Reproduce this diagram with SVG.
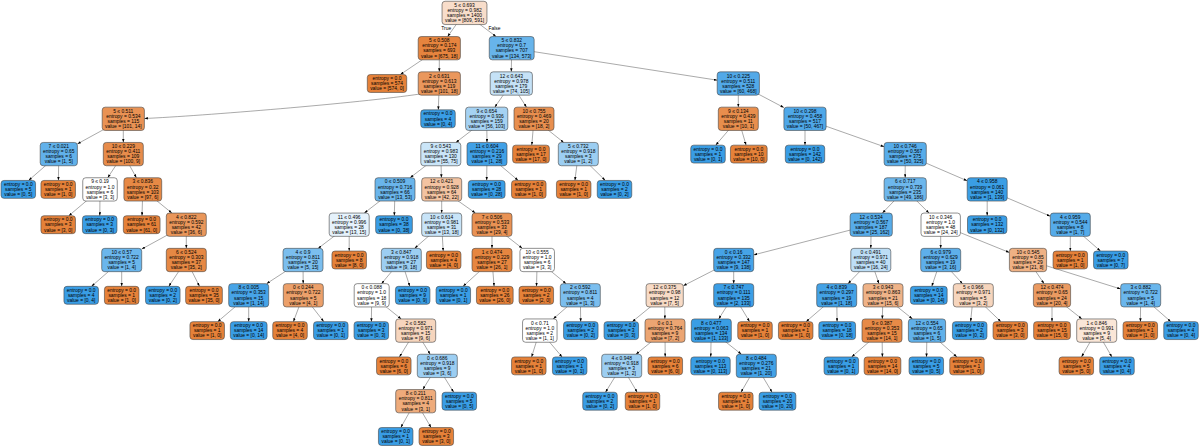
<svg xmlns="http://www.w3.org/2000/svg" width="1200" height="447" viewBox="0 0 1200 447">
<style>
text{font-family:"Liberation Sans",Arial,sans-serif;font-size:4.93px;text-anchor:middle;fill:#000}
.nd rect{stroke:#444;stroke-width:.6;rx:3px;ry:3px}
.o{fill:#e58139}.b{fill:#399de5}.w{fill:#fff}
#edges path{stroke:#555;stroke-width:.5;fill:none;marker-end:url(#ah)}
</style>
<defs><marker id="ah" viewBox="0 0 10 7" refX="10" refY="3.5" markerWidth="3.5" markerHeight="2.45" markerUnits="userSpaceOnUse" orient="auto"><path d="M0 0L10 3.5L0 7z" fill="#000"/></marker></defs>
<rect width="1200" height="447" fill="#fff"/>
<g id="edges">
<path d="M464.5 12.9L447.6 36.55"/><path d="M464.5 12.9L496.1 36.55"/>
<path d="M439.3 48.2L400.3 74.55"/><path d="M439.3 48.2L439.3 71.85"/><path d="M511.7 48.2L511.3 71.85"/><path d="M511.7 48.2L717.2 80.2"/>
<path d="M420 94C360 103 200 116 144.4 118.5"/><path d="M439.3 83.5L438.3 109.85"/><path d="M511.3 83.5L494.8 107.15"/><path d="M511.3 83.5L526.5 107.15"/><path d="M738.3 83.5L738.3 107.15"/><path d="M738.3 83.5L783.9 107.6"/>
<path d="M123.3 118.8L77.4 143.9"/><path d="M123.3 118.8L123.3 142.45"/><path d="M486.7 118.8L455.9 142.45"/><path d="M486.7 118.8L487 142.45"/><path d="M534 118.8L531.8 145.15"/><path d="M534 118.8L563.7 142.45"/><path d="M738.3 118.8L715.7 145.15"/><path d="M738.3 118.8L746.1 145.15"/><path d="M805 118.8L805 145.15"/><path d="M805 118.8L884.1 146.7"/>
<path d="M58.8 154.1L28.6 180.45"/><path d="M58.8 154.1L58.4 180.45"/><path d="M123.3 154.1L107.7 177.75"/><path d="M123.3 154.1L136.4 177.75"/><path d="M440.8 154.1L410.1 177.75"/><path d="M440.8 154.1L441.4 177.75"/><path d="M487 154.1L486.7 180.45"/><path d="M487 154.1L518.2 180.45"/><path d="M578.3 154.1L574.9 180.45"/><path d="M578.3 154.1L605.3 180.45"/><path d="M905.2 154.1L905.2 177.75"/><path d="M905.2 154.1L967.2 180.8"/>
<path d="M100 189.4L68.8 215.75"/><path d="M100 189.4L99.8 215.75"/><path d="M142.8 189.4L142 215.75"/><path d="M142.8 189.4L171.9 213.05"/><path d="M395 189.4L364.3 213.05"/><path d="M395 189.4L394.3 215.75"/><path d="M441.7 189.4L441.7 213.05"/><path d="M441.7 189.4L475.4 213.05"/><path d="M905.2 189.4L882.4 213.05"/><path d="M905.2 189.4L929 213.05"/><path d="M987.2 189.4L987.2 215.75"/><path d="M987.2 189.4L1050.3 216.2"/>
<path d="M186.3 224.7L141.7 249.1"/><path d="M186.3 224.7L186.3 248.35"/><path d="M349.2 224.7L318.2 248.35"/><path d="M349.2 224.7L349.2 251.05"/><path d="M441.7 224.7L414.6 248.35"/><path d="M441.7 224.7L443.2 251.05"/><path d="M492 224.7L492 248.35"/><path d="M492 224.7L522.3 248.35"/><path d="M871.2 224.7L753.7 254.9"/><path d="M871.2 224.7L870.8 248.35"/><path d="M940.7 224.7L940.7 248.35"/><path d="M940.7 224.7L1009.4 252.5"/><path d="M1070.3 224.7L1070.3 251.05"/><path d="M1070.3 224.7L1100.5 251.05"/>
<path d="M121.7 260L91.5 286.35"/><path d="M121.7 260L121.7 286.35"/><path d="M186.3 260L168.8 286.35"/><path d="M186.3 260L199.5 286.35"/><path d="M303 260L266.6 283.65"/><path d="M303 260L303.2 283.65"/><path d="M401.3 260L381.5 283.65"/><path d="M401.3 260L409.8 286.35"/><path d="M492 260L463.1 286.35"/><path d="M492 260L494.1 286.35"/><path d="M537.2 260L536.5 286.35"/><path d="M537.2 260L566.1 283.65"/><path d="M733.7 260L683.3 285.8"/><path d="M733.7 260L733.7 283.65"/><path d="M870.8 260L848 283.65"/><path d="M870.8 260L879 283.65"/><path d="M940.7 260L931.8 286.35"/><path d="M940.7 260L962.5 283.65"/><path d="M1028 260L1044.1 283.65"/><path d="M1028 260L1120.7 289"/>
<path d="M248.7 295.3L217.7 321.65"/><path d="M248.7 295.3L248.7 321.65"/><path d="M303.3 295.3L293.4 321.65"/><path d="M303.3 295.3L323.8 321.65"/><path d="M371.7 295.3L371.4 321.65"/><path d="M371.7 295.3L401.2 318.95"/><path d="M580.3 295.3L553.2 318.95"/><path d="M580.3 295.3L580.7 321.65"/><path d="M664.7 295.3L632.3 321.65"/><path d="M664.7 295.3L664.9 318.95"/><path d="M733.7 295.3L718.7 318.95"/><path d="M733.7 295.3L749.6 321.65"/><path d="M836.7 295.3L806.1 321.65"/><path d="M836.7 295.3L837.1 321.65"/><path d="M883 295.3L882.3 318.95"/><path d="M883 295.3L912.5 318.95"/><path d="M973.3 295.3L970.6 321.65"/><path d="M973.3 295.3L1000.9 321.65"/><path d="M1052 295.3L1052 321.65"/><path d="M1052 295.3L1081.9 318.95"/><path d="M1140.7 295.3L1140.4 321.65"/><path d="M1140.7 295.3L1170.8 321.65"/>
<path d="M415.7 330.6L399.4 356.95"/><path d="M415.7 330.6L430.2 354.25"/><path d="M539.8 330.6L531.6 356.95"/><path d="M539.8 330.6L562.1 356.95"/><path d="M665 330.6L636 354.25"/><path d="M665 330.6L665.2 356.95"/><path d="M711.3 330.6L710.7 356.95"/><path d="M711.3 330.6L741.4 354.25"/><path d="M882 330.6L851.6 356.95"/><path d="M882 330.6L882.4 356.95"/><path d="M927 330.6L926.5 356.95"/><path d="M927 330.6L956.9 356.95"/><path d="M1096.7 330.6L1081.5 356.95"/><path d="M1096.7 330.6L1111.9 356.95"/>
<path d="M437.3 365.9L422.8 389.55"/><path d="M437.3 365.9L453.7 392.25"/><path d="M621.7 365.9L605.5 392.25"/><path d="M621.7 365.9L637.2 392.25"/><path d="M756.3 365.9L741 392.25"/><path d="M756.3 365.9L772.1 392.25"/>
<path d="M415.7 401.2L400.8 427.55"/><path d="M415.7 401.2L431.1 427.55"/>
</g>
<text x="446.2" y="29.7">True</text><text x="494.5" y="29.7">False</text>
<g id="n0" class="nd"><rect x="442.05" y="1.25" width="44.9" height="23.3" fill="#f8ddca"/><text y="6.95"><tspan x="464.5">5 ≤ 0.693</tspan><tspan x="464.5" dy="5.1">entropy = 0.982</tspan><tspan x="464.5" dy="5.1">samples = 1400</tspan><tspan x="464.5" dy="5.1">value = [809, 591]</tspan></text></g>
<g id="n1" class="nd"><rect x="418.2" y="36.55" width="42.2" height="23.3" fill="#e6843e"/><text y="42.25"><tspan x="439.3">5 ≤ 0.508</tspan><tspan x="439.3" dy="5.1">entropy = 0.174</tspan><tspan x="439.3" dy="5.1">samples = 693</tspan><tspan x="439.3" dy="5.1">value = [675, 18]</tspan></text></g>
<g id="n2" class="nd"><rect x="489.25" y="36.55" width="44.9" height="23.3" fill="#67b4eb"/><text y="42.25"><tspan x="511.7">5 ≤ 0.832</tspan><tspan x="511.7" dy="5.1">entropy = 0.7</tspan><tspan x="511.7" dy="5.1">samples = 707</tspan><tspan x="511.7" dy="5.1">value = [134, 573]</tspan></text></g>
<g id="n3" class="nd"><rect class="o" x="367.3" y="74.55" width="39.4" height="17.9"/><text y="80.1"><tspan x="387">entropy = 0.0</tspan><tspan x="387" dy="5.1">samples = 574</tspan><tspan x="387" dy="5.1">value = [574, 0]</tspan></text></g>
<g id="n4" class="nd"><rect x="418.2" y="71.85" width="42.2" height="23.3" fill="#ea975c"/><text y="77.55"><tspan x="439.3">2 ≤ 0.631</tspan><tspan x="439.3" dy="5.1">entropy = 0.613</tspan><tspan x="439.3" dy="5.1">samples = 119</tspan><tspan x="439.3" dy="5.1">value = [101, 18]</tspan></text></g>
<g id="n5" class="nd"><rect x="490.2" y="71.85" width="42.2" height="23.3" fill="#c5e2f7"/><text y="77.55"><tspan x="511.3">12 ≤ 0.643</tspan><tspan x="511.3" dy="5.1">entropy = 0.978</tspan><tspan x="511.3" dy="5.1">samples = 179</tspan><tspan x="511.3" dy="5.1">value = [74, 105]</tspan></text></g>
<g id="n6" class="nd"><rect x="717.2" y="71.85" width="42.2" height="23.3" fill="#52a9e8"/><text y="77.55"><tspan x="738.3">10 ≤ 0.225</tspan><tspan x="738.3" dy="5.1">entropy = 0.511</tspan><tspan x="738.3" dy="5.1">samples = 528</tspan><tspan x="738.3" dy="5.1">value = [60, 468]</tspan></text></g>
<g id="n7" class="nd"><rect x="102.2" y="107.15" width="42.2" height="23.3" fill="#e99254"/><text y="112.85"><tspan x="123.3">5 ≤ 0.511</tspan><tspan x="123.3" dy="5.1">entropy = 0.534</tspan><tspan x="123.3" dy="5.1">samples = 115</tspan><tspan x="123.3" dy="5.1">value = [101, 14]</tspan></text></g>
<g id="n8" class="nd"><rect class="b" x="420.75" y="109.85" width="34.5" height="17.9"/><text y="115.4"><tspan x="438">entropy = 0.0</tspan><tspan x="438" dy="5.1">samples = 4</tspan><tspan x="438" dy="5.1">value = [0, 4]</tspan></text></g>
<g id="n9" class="nd"><rect x="465.6" y="107.15" width="42.2" height="23.3" fill="#a5d2f3"/><text y="112.85"><tspan x="486.7">9 ≤ 0.654</tspan><tspan x="486.7" dy="5.1">entropy = 0.936</tspan><tspan x="486.7" dy="5.1">samples = 159</tspan><tspan x="486.7" dy="5.1">value = [56, 103]</tspan></text></g>
<g id="n10" class="nd"><rect x="514" y="107.15" width="40" height="23.3" fill="#e88f4f"/><text y="112.85"><tspan x="534">10 ≤ 0.755</tspan><tspan x="534" dy="5.1">entropy = 0.469</tspan><tspan x="534" dy="5.1">samples = 20</tspan><tspan x="534" dy="5.1">value = [18, 2]</tspan></text></g>
<g id="n11" class="nd"><rect x="718.3" y="107.15" width="40" height="23.3" fill="#e88e4d"/><text y="112.85"><tspan x="738.3">9 ≤ 0.134</tspan><tspan x="738.3" dy="5.1">entropy = 0.439</tspan><tspan x="738.3" dy="5.1">samples = 11</tspan><tspan x="738.3" dy="5.1">value = [10, 1]</tspan></text></g>
<g id="n12" class="nd"><rect x="783.9" y="107.15" width="42.2" height="23.3" fill="#4ea7e8"/><text y="112.85"><tspan x="805">10 ≤ 0.298</tspan><tspan x="805" dy="5.1">entropy = 0.458</tspan><tspan x="805" dy="5.1">samples = 517</tspan><tspan x="805" dy="5.1">value = [50, 467]</tspan></text></g>
<g id="n13" class="nd"><rect x="40.2" y="142.45" width="37.2" height="23.3" fill="#61b1ea"/><text y="148.15"><tspan x="58.8">7 ≤ 0.021</tspan><tspan x="58.8" dy="5.1">entropy = 0.65</tspan><tspan x="58.8" dy="5.1">samples = 6</tspan><tspan x="58.8" dy="5.1">value = [1, 5]</tspan></text></g>
<g id="n14" class="nd"><rect x="103.3" y="142.45" width="40" height="23.3" fill="#e78c4b"/><text y="148.15"><tspan x="123.3">10 ≤ 0.229</tspan><tspan x="123.3" dy="5.1">entropy = 0.411</tspan><tspan x="123.3" dy="5.1">samples = 109</tspan><tspan x="123.3" dy="5.1">value = [100, 9]</tspan></text></g>
<g id="n15" class="nd"><rect x="420.8" y="142.45" width="40" height="23.3" fill="#cae5f8"/><text y="148.15"><tspan x="440.8">9 ≤ 0.543</tspan><tspan x="440.8" dy="5.1">entropy = 0.983</tspan><tspan x="440.8" dy="5.1">samples = 130</tspan><tspan x="440.8" dy="5.1">value = [55, 75]</tspan></text></g>
<g id="n16" class="nd"><rect x="467" y="142.45" width="40" height="23.3" fill="#40a0e6"/><text y="148.15"><tspan x="487">11 ≤ 0.604</tspan><tspan x="487" dy="5.1">entropy = 0.216</tspan><tspan x="487" dy="5.1">samples = 29</tspan><tspan x="487" dy="5.1">value = [1, 28]</tspan></text></g>
<g id="n17" class="nd"><rect class="o" x="512.65" y="145.15" width="36.7" height="17.9"/><text y="150.7"><tspan x="531">entropy = 0.0</tspan><tspan x="531" dy="5.1">samples = 17</tspan><tspan x="531" dy="5.1">value = [17, 0]</tspan></text></g>
<g id="n18" class="nd"><rect x="558.3" y="142.45" width="40" height="23.3" fill="#9ccef2"/><text y="148.15"><tspan x="578.3">5 ≤ 0.732</tspan><tspan x="578.3" dy="5.1">entropy = 0.918</tspan><tspan x="578.3" dy="5.1">samples = 3</tspan><tspan x="578.3" dy="5.1">value = [1, 2]</tspan></text></g>
<g id="n19" class="nd"><rect class="b" x="690.75" y="145.15" width="34.5" height="17.9"/><text y="150.7"><tspan x="708">entropy = 0.0</tspan><tspan x="708" dy="5.1">samples = 1</tspan><tspan x="708" dy="5.1">value = [0, 1]</tspan></text></g>
<g id="n20" class="nd"><rect class="o" x="730.45" y="145.15" width="36.7" height="17.9"/><text y="150.7"><tspan x="748.8">entropy = 0.0</tspan><tspan x="748.8" dy="5.1">samples = 10</tspan><tspan x="748.8" dy="5.1">value = [10, 0]</tspan></text></g>
<g id="n21" class="nd"><rect class="b" x="785.3" y="145.15" width="39.4" height="17.9"/><text y="150.7"><tspan x="805">entropy = 0.0</tspan><tspan x="805" dy="5.1">samples = 142</tspan><tspan x="805" dy="5.1">value = [0, 142]</tspan></text></g>
<g id="n22" class="nd"><rect x="884.1" y="142.45" width="42.2" height="23.3" fill="#57ace9"/><text y="148.15"><tspan x="905.2">10 ≤ 0.746</tspan><tspan x="905.2" dy="5.1">entropy = 0.567</tspan><tspan x="905.2" dy="5.1">samples = 375</tspan><tspan x="905.2" dy="5.1">value = [50, 325]</tspan></text></g>
<g id="n23" class="nd"><rect class="b" x="1.05" y="180.45" width="34.5" height="17.9"/><text y="186"><tspan x="18.3">entropy = 0.0</tspan><tspan x="18.3" dy="5.1">samples = 5</tspan><tspan x="18.3" dy="5.1">value = [0, 5]</tspan></text></g>
<g id="n24" class="nd"><rect class="o" x="40.95" y="180.45" width="34.5" height="17.9"/><text y="186"><tspan x="58.2">entropy = 0.0</tspan><tspan x="58.2" dy="5.1">samples = 1</tspan><tspan x="58.2" dy="5.1">value = [1, 0]</tspan></text></g>
<g id="n25" class="nd"><rect class="w" x="82.75" y="177.75" width="34.5" height="23.3"/><text y="183.45"><tspan x="100">9 ≤ 0.19</tspan><tspan x="100" dy="5.1">entropy = 1.0</tspan><tspan x="100" dy="5.1">samples = 6</tspan><tspan x="100" dy="5.1">value = [3, 3]</tspan></text></g>
<g id="n26" class="nd"><rect x="123.9" y="177.75" width="37.8" height="23.3" fill="#e78945"/><text y="183.45"><tspan x="142.8">3 ≤ 0.836</tspan><tspan x="142.8" dy="5.1">entropy = 0.32</tspan><tspan x="142.8" dy="5.1">samples = 103</tspan><tspan x="142.8" dy="5.1">value = [97, 6]</tspan></text></g>
<g id="n27" class="nd"><rect x="375" y="177.75" width="40" height="23.3" fill="#6ab5eb"/><text y="183.45"><tspan x="395">0 ≤ 0.509</tspan><tspan x="395" dy="5.1">entropy = 0.716</tspan><tspan x="395" dy="5.1">samples = 66</tspan><tspan x="395" dy="5.1">value = [13, 53]</tspan></text></g>
<g id="n28" class="nd"><rect x="421.7" y="177.75" width="40" height="23.3" fill="#f3c3a1"/><text y="183.45"><tspan x="441.7">12 ≤ 0.421</tspan><tspan x="441.7" dy="5.1">entropy = 0.928</tspan><tspan x="441.7" dy="5.1">samples = 64</tspan><tspan x="441.7" dy="5.1">value = [42, 22]</tspan></text></g>
<g id="n29" class="nd"><rect class="b" x="468.35" y="180.45" width="36.7" height="17.9"/><text y="186"><tspan x="486.7">entropy = 0.0</tspan><tspan x="486.7" dy="5.1">samples = 28</tspan><tspan x="486.7" dy="5.1">value = [0, 28]</tspan></text></g>
<g id="n30" class="nd"><rect class="o" x="511.55" y="180.45" width="34.5" height="17.9"/><text y="186"><tspan x="528.8">entropy = 0.0</tspan><tspan x="528.8" dy="5.1">samples = 1</tspan><tspan x="528.8" dy="5.1">value = [1, 0]</tspan></text></g>
<g id="n31" class="nd"><rect class="o" x="556.45" y="180.45" width="34.5" height="17.9"/><text y="186"><tspan x="573.7">entropy = 0.0</tspan><tspan x="573.7" dy="5.1">samples = 1</tspan><tspan x="573.7" dy="5.1">value = [1, 0]</tspan></text></g>
<g id="n32" class="nd"><rect class="b" x="597.25" y="180.45" width="34.5" height="17.9"/><text y="186"><tspan x="614.5">entropy = 0.0</tspan><tspan x="614.5" dy="5.1">samples = 2</tspan><tspan x="614.5" dy="5.1">value = [0, 2]</tspan></text></g>
<g id="n33" class="nd"><rect x="884.1" y="177.75" width="42.2" height="23.3" fill="#6db7ec"/><text y="183.45"><tspan x="905.2">6 ≤ 0.717</tspan><tspan x="905.2" dy="5.1">entropy = 0.739</tspan><tspan x="905.2" dy="5.1">samples = 235</tspan><tspan x="905.2" dy="5.1">value = [49, 186]</tspan></text></g>
<g id="n34" class="nd"><rect x="967.2" y="177.75" width="40" height="23.3" fill="#3a9ee5"/><text y="183.45"><tspan x="987.2">4 ≤ 0.958</tspan><tspan x="987.2" dy="5.1">entropy = 0.061</tspan><tspan x="987.2" dy="5.1">samples = 140</tspan><tspan x="987.2" dy="5.1">value = [1, 139]</tspan></text></g>
<g id="n35" class="nd"><rect class="o" x="40.95" y="215.75" width="34.5" height="17.9"/><text y="221.3"><tspan x="58.2">entropy = 0.0</tspan><tspan x="58.2" dy="5.1">samples = 3</tspan><tspan x="58.2" dy="5.1">value = [3, 0]</tspan></text></g>
<g id="n36" class="nd"><rect class="b" x="82.45" y="215.75" width="34.5" height="17.9"/><text y="221.3"><tspan x="99.7">entropy = 0.0</tspan><tspan x="99.7" dy="5.1">samples = 3</tspan><tspan x="99.7" dy="5.1">value = [0, 3]</tspan></text></g>
<g id="n37" class="nd"><rect class="o" x="123.35" y="215.75" width="36.7" height="17.9"/><text y="221.3"><tspan x="141.7">entropy = 0.0</tspan><tspan x="141.7" dy="5.1">samples = 61</tspan><tspan x="141.7" dy="5.1">value = [61, 0]</tspan></text></g>
<g id="n38" class="nd"><rect x="166.3" y="213.05" width="40" height="23.3" fill="#e9965a"/><text y="218.75"><tspan x="186.3">4 ≤ 0.822</tspan><tspan x="186.3" dy="5.1">entropy = 0.592</tspan><tspan x="186.3" dy="5.1">samples = 42</tspan><tspan x="186.3" dy="5.1">value = [36, 6]</tspan></text></g>
<g id="n39" class="nd"><rect x="329.2" y="213.05" width="40" height="23.3" fill="#e5f2fc"/><text y="218.75"><tspan x="349.2">11 ≤ 0.496</tspan><tspan x="349.2" dy="5.1">entropy = 0.996</tspan><tspan x="349.2" dy="5.1">samples = 28</tspan><tspan x="349.2" dy="5.1">value = [13, 15]</tspan></text></g>
<g id="n40" class="nd"><rect class="b" x="375.65" y="215.75" width="36.7" height="17.9"/><text y="221.3"><tspan x="394">entropy = 0.0</tspan><tspan x="394" dy="5.1">samples = 38</tspan><tspan x="394" dy="5.1">value = [0, 38]</tspan></text></g>
<g id="n41" class="nd"><rect x="421.7" y="213.05" width="40" height="23.3" fill="#c8e4f8"/><text y="218.75"><tspan x="441.7">10 ≤ 0.614</tspan><tspan x="441.7" dy="5.1">entropy = 0.981</tspan><tspan x="441.7" dy="5.1">samples = 31</tspan><tspan x="441.7" dy="5.1">value = [13, 18]</tspan></text></g>
<g id="n42" class="nd"><rect x="472" y="213.05" width="40" height="23.3" fill="#e99254"/><text y="218.75"><tspan x="492">7 ≤ 0.506</tspan><tspan x="492" dy="5.1">entropy = 0.533</tspan><tspan x="492" dy="5.1">samples = 33</tspan><tspan x="492" dy="5.1">value = [29, 4]</tspan></text></g>
<g id="n43" class="nd"><rect x="850.1" y="213.05" width="42.2" height="23.3" fill="#57ace9"/><text y="218.75"><tspan x="871.2">12 ≤ 0.534</tspan><tspan x="871.2" dy="5.1">entropy = 0.567</tspan><tspan x="871.2" dy="5.1">samples = 187</tspan><tspan x="871.2" dy="5.1">value = [25, 162]</tspan></text></g>
<g id="n44" class="nd"><rect class="w" x="921" y="213.05" width="39.4" height="23.3"/><text y="218.75"><tspan x="940.7">10 ≤ 0.346</tspan><tspan x="940.7" dy="5.1">entropy = 1.0</tspan><tspan x="940.7" dy="5.1">samples = 48</tspan><tspan x="940.7" dy="5.1">value = [24, 24]</tspan></text></g>
<g id="n45" class="nd"><rect class="b" x="967.5" y="215.75" width="39.4" height="17.9"/><text y="221.3"><tspan x="987.2">entropy = 0.0</tspan><tspan x="987.2" dy="5.1">samples = 132</tspan><tspan x="987.2" dy="5.1">value = [0, 132]</tspan></text></g>
<g id="n46" class="nd"><rect x="1050.3" y="213.05" width="40" height="23.3" fill="#55abe9"/><text y="218.75"><tspan x="1070.3">4 ≤ 0.959</tspan><tspan x="1070.3" dy="5.1">entropy = 0.544</tspan><tspan x="1070.3" dy="5.1">samples = 8</tspan><tspan x="1070.3" dy="5.1">value = [1, 7]</tspan></text></g>
<g id="n47" class="nd"><rect x="101.7" y="248.35" width="40" height="23.3" fill="#6ab6ec"/><text y="254.05"><tspan x="121.7">10 ≤ 0.57</tspan><tspan x="121.7" dy="5.1">entropy = 0.722</tspan><tspan x="121.7" dy="5.1">samples = 5</tspan><tspan x="121.7" dy="5.1">value = [1, 4]</tspan></text></g>
<g id="n48" class="nd"><rect x="166.3" y="248.35" width="40" height="23.3" fill="#e68844"/><text y="254.05"><tspan x="186.3">6 ≤ 0.524</tspan><tspan x="186.3" dy="5.1">entropy = 0.303</tspan><tspan x="186.3" dy="5.1">samples = 37</tspan><tspan x="186.3" dy="5.1">value = [35, 2]</tspan></text></g>
<g id="n49" class="nd"><rect x="283" y="248.35" width="40" height="23.3" fill="#7bbeee"/><text y="254.05"><tspan x="303">4 ≤ 0.9</tspan><tspan x="303" dy="5.1">entropy = 0.811</tspan><tspan x="303" dy="5.1">samples = 20</tspan><tspan x="303" dy="5.1">value = [5, 15]</tspan></text></g>
<g id="n50" class="nd"><rect class="o" x="331.95" y="251.05" width="34.5" height="17.9"/><text y="256.6"><tspan x="349.2">entropy = 0.0</tspan><tspan x="349.2" dy="5.1">samples = 8</tspan><tspan x="349.2" dy="5.1">value = [8, 0]</tspan></text></g>
<g id="n51" class="nd"><rect x="381.3" y="248.35" width="40" height="23.3" fill="#9ccef2"/><text y="254.05"><tspan x="401.3">3 ≤ 0.847</tspan><tspan x="401.3" dy="5.1">entropy = 0.918</tspan><tspan x="401.3" dy="5.1">samples = 27</tspan><tspan x="401.3" dy="5.1">value = [9, 18]</tspan></text></g>
<g id="n52" class="nd"><rect class="o" x="426.45" y="251.05" width="34.5" height="17.9"/><text y="256.6"><tspan x="443.7">entropy = 0.0</tspan><tspan x="443.7" dy="5.1">samples = 4</tspan><tspan x="443.7" dy="5.1">value = [4, 0]</tspan></text></g>
<g id="n53" class="nd"><rect x="472" y="248.35" width="40" height="23.3" fill="#e68640"/><text y="254.05"><tspan x="492">1 ≤ 0.474</tspan><tspan x="492" dy="5.1">entropy = 0.229</tspan><tspan x="492" dy="5.1">samples = 27</tspan><tspan x="492" dy="5.1">value = [26, 1]</tspan></text></g>
<g id="n54" class="nd"><rect class="w" x="519.95" y="248.35" width="34.5" height="23.3"/><text y="254.05"><tspan x="537.2">10 ≤ 0.555</tspan><tspan x="537.2" dy="5.1">entropy = 1.0</tspan><tspan x="537.2" dy="5.1">samples = 6</tspan><tspan x="537.2" dy="5.1">value = [3, 3]</tspan></text></g>
<g id="n55" class="nd"><rect x="713.7" y="248.35" width="40" height="23.3" fill="#46a3e7"/><text y="254.05"><tspan x="733.7">0 ≤ 0.16</tspan><tspan x="733.7" dy="5.1">entropy = 0.332</tspan><tspan x="733.7" dy="5.1">samples = 147</tspan><tspan x="733.7" dy="5.1">value = [9, 138]</tspan></text></g>
<g id="n56" class="nd"><rect x="850.8" y="248.35" width="40" height="23.3" fill="#bddef6"/><text y="254.05"><tspan x="870.8">0 ≤ 0.491</tspan><tspan x="870.8" dy="5.1">entropy = 0.971</tspan><tspan x="870.8" dy="5.1">samples = 40</tspan><tspan x="870.8" dy="5.1">value = [16, 24]</tspan></text></g>
<g id="n57" class="nd"><rect x="920.7" y="248.35" width="40" height="23.3" fill="#5eafea"/><text y="254.05"><tspan x="940.7">6 ≤ 0.979</tspan><tspan x="940.7" dy="5.1">entropy = 0.629</tspan><tspan x="940.7" dy="5.1">samples = 19</tspan><tspan x="940.7" dy="5.1">value = [3, 16]</tspan></text></g>
<g id="n58" class="nd"><rect x="1009.4" y="248.35" width="37.2" height="23.3" fill="#efb184"/><text y="254.05"><tspan x="1028">10 ≤ 0.545</tspan><tspan x="1028" dy="5.1">entropy = 0.85</tspan><tspan x="1028" dy="5.1">samples = 29</tspan><tspan x="1028" dy="5.1">value = [21, 8]</tspan></text></g>
<g id="n59" class="nd"><rect class="o" x="1053.05" y="251.05" width="34.5" height="17.9"/><text y="256.6"><tspan x="1070.3">entropy = 0.0</tspan><tspan x="1070.3" dy="5.1">samples = 1</tspan><tspan x="1070.3" dy="5.1">value = [1, 0]</tspan></text></g>
<g id="n60" class="nd"><rect class="b" x="1093.55" y="251.05" width="34.5" height="17.9"/><text y="256.6"><tspan x="1110.8">entropy = 0.0</tspan><tspan x="1110.8" dy="5.1">samples = 7</tspan><tspan x="1110.8" dy="5.1">value = [0, 7]</tspan></text></g>
<g id="n61" class="nd"><rect class="b" x="63.95" y="286.35" width="34.5" height="17.9"/><text y="291.9"><tspan x="81.2">entropy = 0.0</tspan><tspan x="81.2" dy="5.1">samples = 4</tspan><tspan x="81.2" dy="5.1">value = [0, 4]</tspan></text></g>
<g id="n62" class="nd"><rect class="o" x="104.45" y="286.35" width="34.5" height="17.9"/><text y="291.9"><tspan x="121.7">entropy = 0.0</tspan><tspan x="121.7" dy="5.1">samples = 1</tspan><tspan x="121.7" dy="5.1">value = [1, 0]</tspan></text></g>
<g id="n63" class="nd"><rect class="b" x="145.55" y="286.35" width="34.5" height="17.9"/><text y="291.9"><tspan x="162.8">entropy = 0.0</tspan><tspan x="162.8" dy="5.1">samples = 2</tspan><tspan x="162.8" dy="5.1">value = [0, 2]</tspan></text></g>
<g id="n64" class="nd"><rect class="o" x="185.65" y="286.35" width="36.7" height="17.9"/><text y="291.9"><tspan x="204">entropy = 0.0</tspan><tspan x="204" dy="5.1">samples = 35</tspan><tspan x="204" dy="5.1">value = [35, 0]</tspan></text></g>
<g id="n65" class="nd"><rect x="228.7" y="283.65" width="40" height="23.3" fill="#47a4e7"/><text y="289.35"><tspan x="248.7">8 ≤ 0.005</tspan><tspan x="248.7" dy="5.1">entropy = 0.353</tspan><tspan x="248.7" dy="5.1">samples = 15</tspan><tspan x="248.7" dy="5.1">value = [1, 14]</tspan></text></g>
<g id="n66" class="nd"><rect x="283.3" y="283.65" width="40" height="23.3" fill="#eca06a"/><text y="289.35"><tspan x="303.3">0 ≤ 0.244</tspan><tspan x="303.3" dy="5.1">entropy = 0.722</tspan><tspan x="303.3" dy="5.1">samples = 5</tspan><tspan x="303.3" dy="5.1">value = [4, 1]</tspan></text></g>
<g id="n67" class="nd"><rect class="w" x="354.2" y="283.65" width="35" height="23.3"/><text y="289.35"><tspan x="371.7">0 ≤ 0.088</tspan><tspan x="371.7" dy="5.1">entropy = 1.0</tspan><tspan x="371.7" dy="5.1">samples = 18</tspan><tspan x="371.7" dy="5.1">value = [9, 9]</tspan></text></g>
<g id="n68" class="nd"><rect class="b" x="395.45" y="286.35" width="34.5" height="17.9"/><text y="291.9"><tspan x="412.7">entropy = 0.0</tspan><tspan x="412.7" dy="5.1">samples = 9</tspan><tspan x="412.7" dy="5.1">value = [0, 9]</tspan></text></g>
<g id="n69" class="nd"><rect class="b" x="436.05" y="286.35" width="34.5" height="17.9"/><text y="291.9"><tspan x="453.3">entropy = 0.0</tspan><tspan x="453.3" dy="5.1">samples = 1</tspan><tspan x="453.3" dy="5.1">value = [0, 1]</tspan></text></g>
<g id="n70" class="nd"><rect class="o" x="476.45" y="286.35" width="36.7" height="17.9"/><text y="291.9"><tspan x="494.8">entropy = 0.0</tspan><tspan x="494.8" dy="5.1">samples = 26</tspan><tspan x="494.8" dy="5.1">value = [26, 0]</tspan></text></g>
<g id="n71" class="nd"><rect class="o" x="519.05" y="286.35" width="34.5" height="17.9"/><text y="291.9"><tspan x="536.3">entropy = 0.0</tspan><tspan x="536.3" dy="5.1">samples = 2</tspan><tspan x="536.3" dy="5.1">value = [2, 0]</tspan></text></g>
<g id="n72" class="nd"><rect x="560.3" y="283.65" width="40" height="23.3" fill="#7bbeee"/><text y="289.35"><tspan x="580.3">2 ≤ 0.592</tspan><tspan x="580.3" dy="5.1">entropy = 0.811</tspan><tspan x="580.3" dy="5.1">samples = 4</tspan><tspan x="580.3" dy="5.1">value = [1, 3]</tspan></text></g>
<g id="n73" class="nd"><rect x="646.1" y="283.65" width="37.2" height="23.3" fill="#f8dbc6"/><text y="289.35"><tspan x="664.7">12 ≤ 0.375</tspan><tspan x="664.7" dy="5.1">entropy = 0.98</tspan><tspan x="664.7" dy="5.1">samples = 12</tspan><tspan x="664.7" dy="5.1">value = [7, 5]</tspan></text></g>
<g id="n74" class="nd"><rect x="713.7" y="283.65" width="40" height="23.3" fill="#3c9ee5"/><text y="289.35"><tspan x="733.7">7 ≤ 0.747</tspan><tspan x="733.7" dy="5.1">entropy = 0.111</tspan><tspan x="733.7" dy="5.1">samples = 135</tspan><tspan x="733.7" dy="5.1">value = [2, 133]</tspan></text></g>
<g id="n75" class="nd"><rect x="816.7" y="283.65" width="40" height="23.3" fill="#44a2e6"/><text y="289.35"><tspan x="836.7">4 ≤ 0.839</tspan><tspan x="836.7" dy="5.1">entropy = 0.297</tspan><tspan x="836.7" dy="5.1">samples = 19</tspan><tspan x="836.7" dy="5.1">value = [1, 18]</tspan></text></g>
<g id="n76" class="nd"><rect x="863" y="283.65" width="40" height="23.3" fill="#efb388"/><text y="289.35"><tspan x="883">3 ≤ 0.943</tspan><tspan x="883" dy="5.1">entropy = 0.863</tspan><tspan x="883" dy="5.1">samples = 21</tspan><tspan x="883" dy="5.1">value = [15, 6]</tspan></text></g>
<g id="n77" class="nd"><rect class="b" x="910.45" y="286.35" width="36.7" height="17.9"/><text y="291.9"><tspan x="928.8">entropy = 0.0</tspan><tspan x="928.8" dy="5.1">samples = 14</tspan><tspan x="928.8" dy="5.1">value = [0, 14]</tspan></text></g>
<g id="n78" class="nd"><rect x="953.3" y="283.65" width="40" height="23.3" fill="#f6d5bd"/><text y="289.35"><tspan x="973.3">5 ≤ 0.966</tspan><tspan x="973.3" dy="5.1">entropy = 0.971</tspan><tspan x="973.3" dy="5.1">samples = 5</tspan><tspan x="973.3" dy="5.1">value = [3, 2]</tspan></text></g>
<g id="n79" class="nd"><rect x="1033.4" y="283.65" width="37.2" height="23.3" fill="#ea9a61"/><text y="289.35"><tspan x="1052">12 ≤ 0.474</tspan><tspan x="1052" dy="5.1">entropy = 0.65</tspan><tspan x="1052" dy="5.1">samples = 24</tspan><tspan x="1052" dy="5.1">value = [20, 4]</tspan></text></g>
<g id="n80" class="nd"><rect x="1120.7" y="283.65" width="40" height="23.3" fill="#6ab6ec"/><text y="289.35"><tspan x="1140.7">3 ≤ 0.882</tspan><tspan x="1140.7" dy="5.1">entropy = 0.722</tspan><tspan x="1140.7" dy="5.1">samples = 5</tspan><tspan x="1140.7" dy="5.1">value = [1, 4]</tspan></text></g>
<g id="n81" class="nd"><rect class="o" x="189.95" y="321.65" width="34.5" height="17.9"/><text y="327.2"><tspan x="207.2">entropy = 0.0</tspan><tspan x="207.2" dy="5.1">samples = 1</tspan><tspan x="207.2" dy="5.1">value = [1, 0]</tspan></text></g>
<g id="n82" class="nd"><rect class="b" x="230.35" y="321.65" width="36.7" height="17.9"/><text y="327.2"><tspan x="248.7">entropy = 0.0</tspan><tspan x="248.7" dy="5.1">samples = 14</tspan><tspan x="248.7" dy="5.1">value = [0, 14]</tspan></text></g>
<g id="n83" class="nd"><rect class="o" x="272.75" y="321.65" width="34.5" height="17.9"/><text y="327.2"><tspan x="290">entropy = 0.0</tspan><tspan x="290" dy="5.1">samples = 4</tspan><tspan x="290" dy="5.1">value = [4, 0]</tspan></text></g>
<g id="n84" class="nd"><rect class="b" x="313.55" y="321.65" width="34.5" height="17.9"/><text y="327.2"><tspan x="330.8">entropy = 0.0</tspan><tspan x="330.8" dy="5.1">samples = 1</tspan><tspan x="330.8" dy="5.1">value = [0, 1]</tspan></text></g>
<g id="n85" class="nd"><rect class="b" x="354.05" y="321.65" width="34.5" height="17.9"/><text y="327.2"><tspan x="371.3">entropy = 0.0</tspan><tspan x="371.3" dy="5.1">samples = 3</tspan><tspan x="371.3" dy="5.1">value = [0, 3]</tspan></text></g>
<g id="n86" class="nd"><rect x="395.7" y="318.95" width="40" height="23.3" fill="#f6d5bd"/><text y="324.65"><tspan x="415.7">2 ≤ 0.582</tspan><tspan x="415.7" dy="5.1">entropy = 0.971</tspan><tspan x="415.7" dy="5.1">samples = 15</tspan><tspan x="415.7" dy="5.1">value = [9, 6]</tspan></text></g>
<g id="n87" class="nd"><rect class="w" x="522.55" y="318.95" width="34.5" height="23.3"/><text y="324.65"><tspan x="539.8">0 ≤ 0.71</tspan><tspan x="539.8" dy="5.1">entropy = 1.0</tspan><tspan x="539.8" dy="5.1">samples = 2</tspan><tspan x="539.8" dy="5.1">value = [1, 1]</tspan></text></g>
<g id="n88" class="nd"><rect class="b" x="563.55" y="321.65" width="34.5" height="17.9"/><text y="327.2"><tspan x="580.8">entropy = 0.0</tspan><tspan x="580.8" dy="5.1">samples = 2</tspan><tspan x="580.8" dy="5.1">value = [0, 2]</tspan></text></g>
<g id="n89" class="nd"><rect class="b" x="604.05" y="321.65" width="34.5" height="17.9"/><text y="327.2"><tspan x="621.3">entropy = 0.0</tspan><tspan x="621.3" dy="5.1">samples = 3</tspan><tspan x="621.3" dy="5.1">value = [0, 3]</tspan></text></g>
<g id="n90" class="nd"><rect x="645" y="318.95" width="40" height="23.3" fill="#eca572"/><text y="324.65"><tspan x="665">0 ≤ 0.1</tspan><tspan x="665" dy="5.1">entropy = 0.764</tspan><tspan x="665" dy="5.1">samples = 9</tspan><tspan x="665" dy="5.1">value = [7, 2]</tspan></text></g>
<g id="n91" class="nd"><rect x="691.3" y="318.95" width="40" height="23.3" fill="#3a9ee5"/><text y="324.65"><tspan x="711.3">8 ≤ 0.477</tspan><tspan x="711.3" dy="5.1">entropy = 0.063</tspan><tspan x="711.3" dy="5.1">samples = 134</tspan><tspan x="711.3" dy="5.1">value = [1, 133]</tspan></text></g>
<g id="n92" class="nd"><rect class="o" x="737.75" y="321.65" width="34.5" height="17.9"/><text y="327.2"><tspan x="755">entropy = 0.0</tspan><tspan x="755" dy="5.1">samples = 1</tspan><tspan x="755" dy="5.1">value = [1, 0]</tspan></text></g>
<g id="n93" class="nd"><rect class="o" x="778.45" y="321.65" width="34.5" height="17.9"/><text y="327.2"><tspan x="795.7">entropy = 0.0</tspan><tspan x="795.7" dy="5.1">samples = 1</tspan><tspan x="795.7" dy="5.1">value = [1, 0]</tspan></text></g>
<g id="n94" class="nd"><rect class="b" x="818.85" y="321.65" width="36.7" height="17.9"/><text y="327.2"><tspan x="837.2">entropy = 0.0</tspan><tspan x="837.2" dy="5.1">samples = 18</tspan><tspan x="837.2" dy="5.1">value = [0, 18]</tspan></text></g>
<g id="n95" class="nd"><rect x="862" y="318.95" width="40" height="23.3" fill="#e78a47"/><text y="324.65"><tspan x="882">9 ≤ 0.387</tspan><tspan x="882" dy="5.1">entropy = 0.353</tspan><tspan x="882" dy="5.1">samples = 15</tspan><tspan x="882" dy="5.1">value = [14, 1]</tspan></text></g>
<g id="n96" class="nd"><rect x="908.4" y="318.95" width="37.2" height="23.3" fill="#61b1ea"/><text y="324.65"><tspan x="927">12 ≤ 0.554</tspan><tspan x="927" dy="5.1">entropy = 0.65</tspan><tspan x="927" dy="5.1">samples = 6</tspan><tspan x="927" dy="5.1">value = [1, 5]</tspan></text></g>
<g id="n97" class="nd"><rect class="b" x="952.45" y="321.65" width="34.5" height="17.9"/><text y="327.2"><tspan x="969.7">entropy = 0.0</tspan><tspan x="969.7" dy="5.1">samples = 2</tspan><tspan x="969.7" dy="5.1">value = [0, 2]</tspan></text></g>
<g id="n98" class="nd"><rect class="o" x="993.05" y="321.65" width="34.5" height="17.9"/><text y="327.2"><tspan x="1010.3">entropy = 0.0</tspan><tspan x="1010.3" dy="5.1">samples = 3</tspan><tspan x="1010.3" dy="5.1">value = [3, 0]</tspan></text></g>
<g id="n99" class="nd"><rect class="o" x="1033.65" y="321.65" width="36.7" height="17.9"/><text y="327.2"><tspan x="1052">entropy = 0.0</tspan><tspan x="1052" dy="5.1">samples = 15</tspan><tspan x="1052" dy="5.1">value = [15, 0]</tspan></text></g>
<g id="n100" class="nd"><rect x="1076.7" y="318.95" width="40" height="23.3" fill="#fae6d7"/><text y="324.65"><tspan x="1096.7">1 ≤ 0.846</tspan><tspan x="1096.7" dy="5.1">entropy = 0.991</tspan><tspan x="1096.7" dy="5.1">samples = 9</tspan><tspan x="1096.7" dy="5.1">value = [5, 4]</tspan></text></g>
<g id="n101" class="nd"><rect class="o" x="1123.05" y="321.65" width="34.5" height="17.9"/><text y="327.2"><tspan x="1140.3">entropy = 0.0</tspan><tspan x="1140.3" dy="5.1">samples = 1</tspan><tspan x="1140.3" dy="5.1">value = [1, 0]</tspan></text></g>
<g id="n102" class="nd"><rect class="b" x="1163.75" y="321.65" width="34.5" height="17.9"/><text y="327.2"><tspan x="1181">entropy = 0.0</tspan><tspan x="1181" dy="5.1">samples = 4</tspan><tspan x="1181" dy="5.1">value = [0, 4]</tspan></text></g>
<g id="n103" class="nd"><rect class="o" x="376.55" y="356.95" width="34.5" height="17.9"/><text y="362.5"><tspan x="393.8">entropy = 0.0</tspan><tspan x="393.8" dy="5.1">samples = 6</tspan><tspan x="393.8" dy="5.1">value = [6, 0]</tspan></text></g>
<g id="n104" class="nd"><rect x="417.3" y="354.25" width="40" height="23.3" fill="#9ccef2"/><text y="359.95"><tspan x="437.3">0 ≤ 0.686</tspan><tspan x="437.3" dy="5.1">entropy = 0.918</tspan><tspan x="437.3" dy="5.1">samples = 9</tspan><tspan x="437.3" dy="5.1">value = [3, 6]</tspan></text></g>
<g id="n105" class="nd"><rect class="o" x="511.55" y="356.95" width="34.5" height="17.9"/><text y="362.5"><tspan x="528.8">entropy = 0.0</tspan><tspan x="528.8" dy="5.1">samples = 1</tspan><tspan x="528.8" dy="5.1">value = [1, 0]</tspan></text></g>
<g id="n106" class="nd"><rect class="b" x="552.45" y="356.95" width="34.5" height="17.9"/><text y="362.5"><tspan x="569.7">entropy = 0.0</tspan><tspan x="569.7" dy="5.1">samples = 1</tspan><tspan x="569.7" dy="5.1">value = [0, 1]</tspan></text></g>
<g id="n107" class="nd"><rect x="601.7" y="354.25" width="40" height="23.3" fill="#9ccef2"/><text y="359.95"><tspan x="621.7">4 ≤ 0.948</tspan><tspan x="621.7" dy="5.1">entropy = 0.918</tspan><tspan x="621.7" dy="5.1">samples = 3</tspan><tspan x="621.7" dy="5.1">value = [1, 2]</tspan></text></g>
<g id="n108" class="nd"><rect class="o" x="648.05" y="356.95" width="34.5" height="17.9"/><text y="362.5"><tspan x="665.3">entropy = 0.0</tspan><tspan x="665.3" dy="5.1">samples = 6</tspan><tspan x="665.3" dy="5.1">value = [6, 0]</tspan></text></g>
<g id="n109" class="nd"><rect class="b" x="690.8" y="356.95" width="39.4" height="17.9"/><text y="362.5"><tspan x="710.5">entropy = 0.0</tspan><tspan x="710.5" dy="5.1">samples = 113</tspan><tspan x="710.5" dy="5.1">value = [0, 113]</tspan></text></g>
<g id="n110" class="nd"><rect x="736.3" y="354.25" width="40" height="23.3" fill="#43a2e6"/><text y="359.95"><tspan x="756.3">8 ≤ 0.484</tspan><tspan x="756.3" dy="5.1">entropy = 0.276</tspan><tspan x="756.3" dy="5.1">samples = 21</tspan><tspan x="756.3" dy="5.1">value = [1, 20]</tspan></text></g>
<g id="n111" class="nd"><rect class="b" x="824.05" y="356.95" width="34.5" height="17.9"/><text y="362.5"><tspan x="841.3">entropy = 0.0</tspan><tspan x="841.3" dy="5.1">samples = 1</tspan><tspan x="841.3" dy="5.1">value = [0, 1]</tspan></text></g>
<g id="n112" class="nd"><rect class="o" x="864.15" y="356.95" width="36.7" height="17.9"/><text y="362.5"><tspan x="882.5">entropy = 0.0</tspan><tspan x="882.5" dy="5.1">samples = 14</tspan><tspan x="882.5" dy="5.1">value = [14, 0]</tspan></text></g>
<g id="n113" class="nd"><rect class="b" x="909.05" y="356.95" width="34.5" height="17.9"/><text y="362.5"><tspan x="926.3">entropy = 0.0</tspan><tspan x="926.3" dy="5.1">samples = 5</tspan><tspan x="926.3" dy="5.1">value = [0, 5]</tspan></text></g>
<g id="n114" class="nd"><rect class="o" x="949.75" y="356.95" width="34.5" height="17.9"/><text y="362.5"><tspan x="967">entropy = 0.0</tspan><tspan x="967" dy="5.1">samples = 1</tspan><tspan x="967" dy="5.1">value = [1, 0]</tspan></text></g>
<g id="n115" class="nd"><rect class="o" x="1059.05" y="356.95" width="34.5" height="17.9"/><text y="362.5"><tspan x="1076.3">entropy = 0.0</tspan><tspan x="1076.3" dy="5.1">samples = 5</tspan><tspan x="1076.3" dy="5.1">value = [5, 0]</tspan></text></g>
<g id="n116" class="nd"><rect class="b" x="1099.75" y="356.95" width="34.5" height="17.9"/><text y="362.5"><tspan x="1117">entropy = 0.0</tspan><tspan x="1117" dy="5.1">samples = 4</tspan><tspan x="1117" dy="5.1">value = [0, 4]</tspan></text></g>
<g id="n117" class="nd"><rect x="395.7" y="389.55" width="40" height="23.3" fill="#eeab7b"/><text y="395.25"><tspan x="415.7">8 ≤ 0.211</tspan><tspan x="415.7" dy="5.1">entropy = 0.811</tspan><tspan x="415.7" dy="5.1">samples = 4</tspan><tspan x="415.7" dy="5.1">value = [3, 1]</tspan></text></g>
<g id="n118" class="nd"><rect class="b" x="442.05" y="392.25" width="34.5" height="17.9"/><text y="397.8"><tspan x="459.3">entropy = 0.0</tspan><tspan x="459.3" dy="5.1">samples = 5</tspan><tspan x="459.3" dy="5.1">value = [0, 5]</tspan></text></g>
<g id="n119" class="nd"><rect class="b" x="582.75" y="392.25" width="34.5" height="17.9"/><text y="397.8"><tspan x="600">entropy = 0.0</tspan><tspan x="600" dy="5.1">samples = 2</tspan><tspan x="600" dy="5.1">value = [0, 2]</tspan></text></g>
<g id="n120" class="nd"><rect class="o" x="625.25" y="392.25" width="34.5" height="17.9"/><text y="397.8"><tspan x="642.5">entropy = 0.0</tspan><tspan x="642.5" dy="5.1">samples = 1</tspan><tspan x="642.5" dy="5.1">value = [1, 0]</tspan></text></g>
<g id="n121" class="nd"><rect class="o" x="718.55" y="392.25" width="34.5" height="17.9"/><text y="397.8"><tspan x="735.8">entropy = 0.0</tspan><tspan x="735.8" dy="5.1">samples = 1</tspan><tspan x="735.8" dy="5.1">value = [1, 0]</tspan></text></g>
<g id="n122" class="nd"><rect class="b" x="759.15" y="392.25" width="36.7" height="17.9"/><text y="397.8"><tspan x="777.5">entropy = 0.0</tspan><tspan x="777.5" dy="5.1">samples = 20</tspan><tspan x="777.5" dy="5.1">value = [0, 20]</tspan></text></g>
<g id="n123" class="nd"><rect class="b" x="378.45" y="427.55" width="34.5" height="17.9"/><text y="433.1"><tspan x="395.7">entropy = 0.0</tspan><tspan x="395.7" dy="5.1">samples = 1</tspan><tspan x="395.7" dy="5.1">value = [0, 1]</tspan></text></g>
<g id="n124" class="nd"><rect class="o" x="419.05" y="427.55" width="34.5" height="17.9"/><text y="433.1"><tspan x="436.3">entropy = 0.0</tspan><tspan x="436.3" dy="5.1">samples = 3</tspan><tspan x="436.3" dy="5.1">value = [3, 0]</tspan></text></g>
</svg>
